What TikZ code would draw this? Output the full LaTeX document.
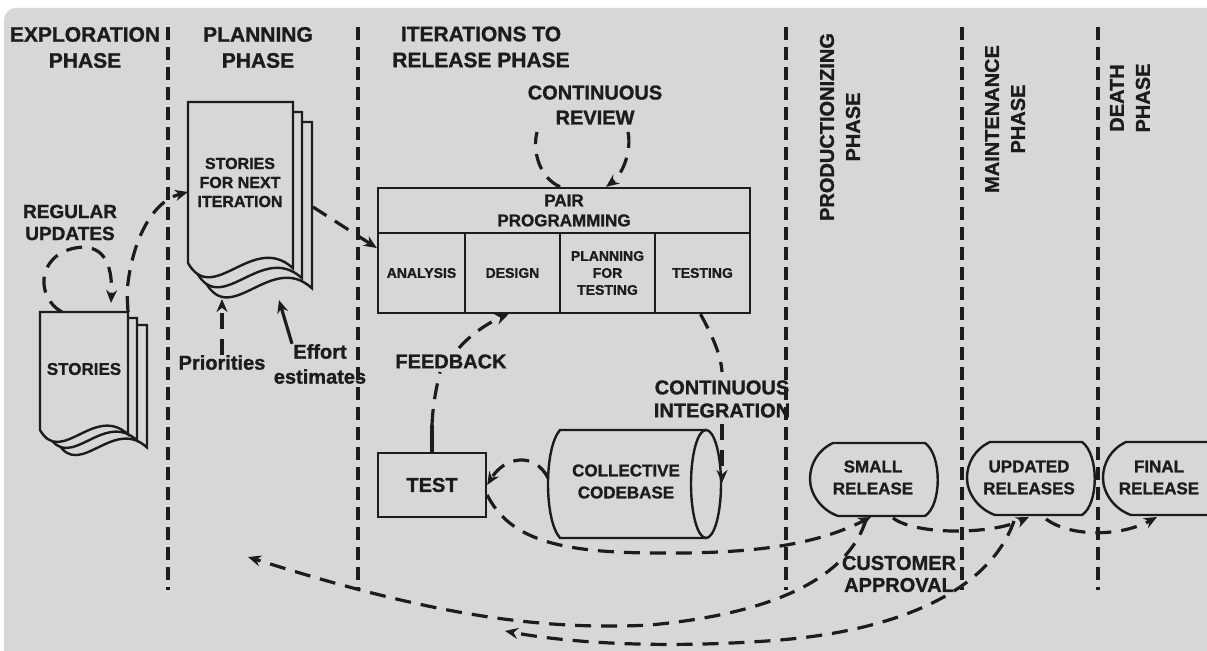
\documentclass[tikz,border=0pt]{standalone}
\usepackage{fontspec}
\setmainfont{Liberation Sans}[BoldFeatures={FakeBold=1.2}]
\usetikzlibrary{arrows.meta}
\definecolor{paper}{HTML}{D7D7D7}
\definecolor{ink}{HTML}{1C1C1C}
\newcommand\txtsz[2]{\fontsize{#1}{#2}\bfseries}
% one sheet of a document stack: left x, top y, width, height of the left edge
\newcommand\docpage[4]{%
  \filldraw[box] (#1,#2) -- (#1+#3,#2) -- (#1+#3,#2+#4+0.05*#3)
    .. controls (#1+0.62*#3,#2+#4-0.3*#3) and (#1+0.24*#3,#2+#4+0.42*#3) .. (#1,#2+#4) -- cycle;}
% release bubble centred on (x,y)
\newcommand\relbubble[2]{%
  \filldraw[box] (#1-40,#2-37) -- (#1+52,#2-37)
    .. controls (#1+69,#2-25) and (#1+69,#2+25) .. (#1+52,#2+36)
    -- (#1-35,#2+36)
    .. controls (#1-52,#2+30) and (#1-63,#2+14) .. (#1-63,#2-1)
    .. controls (#1-63,#2-16) and (#1-55,#2-30) .. (#1-40,#2-37) -- cycle;}

\begin{document}
\begin{tikzpicture}[x=0.5pt,y=-0.5pt,
  box/.style={draw=ink, line width=1.2pt, fill=paper},
  lbl/.style={text=ink, align=center, inner sep=0pt},
  phase/.style={lbl, font=\txtsz{10.5}{13}},
  vphase/.style={lbl, rotate=90, font=\txtsz{10}{13}},
  divider/.style={draw=ink, line width=2pt, dash pattern=on 6.5pt off 3.5pt},
  flow/.style={draw=ink, line width=1.6pt, dash pattern=on 8pt off 5pt},
  solidflow/.style={draw=ink, line width=1.6pt},
  arr/.style={-{Stealth[length=6.5pt,width=5.5pt]}},
  cell/.style={box, minimum height=40pt, inner sep=0pt, align=center, text=ink, font=\txtsz{7}{8.5}},
]
\useasboundingbox (0,0) rectangle (1207,651);
\clip (0,0) rectangle (1207,651);
\fill[white] (0,0) rectangle (1207,651);
\fill[paper, rounded corners=6pt] (4,8) rectangle (1230,680);

% phase separators
\foreach \x in {168,358,786,962,1098} { \draw[divider] (\x,27) -- (\x,590); }

% document stacks
\docpage{58}{325}{89}{118}
\docpage{49}{318}{88}{118}
\docpage{40}{312}{88}{118}
\docpage{206}{122}{106}{161}
\docpage{197}{112}{105}{161}
\docpage{188}{102}{105}{161}

% collective codebase cylinder
\filldraw[box] (560,430) -- (706,430) -- (706,538) -- (560,538)
  .. controls (544,520) and (544,448) .. (560,430) -- cycle;
\filldraw[box] (706,484) ellipse [x radius=15, y radius=54];

% release bubbles
\relbubble{873}{480}
\relbubble{1030}{479}
\relbubble{1166}{479}

% pair programming block and test box
\node[box, lbl, minimum width=186pt, minimum height=22.5pt, font=\txtsz{8.5}{10}] (pp) at (564,210.5) {PAIR\\PROGRAMMING};
\node[cell, minimum width=43.5pt] (analysis) at (421.5,273) {ANALYSIS};
\node[cell, minimum width=47.5pt] (design) at (512.5,273) {DESIGN};
\node[cell, minimum width=47.5pt] (pft) at (607.5,273) {PLANNING\\FOR\\TESTING};
\node[cell, minimum width=47.5pt] (testing) at (702.5,273) {TESTING};
\node[box, lbl, minimum width=54pt, minimum height=32pt, font=\txtsz{10}{12}] (test) at (432,485) {TEST};

% phase titles
\node[phase] (ph-expl) at (85,47.5) {EXPLORATION\\PHASE};
\node[phase] (ph-plan) at (258,47.5) {PLANNING\\PHASE};
\node[phase] (ph-iter) at (481,47) {ITERATIONS TO\\RELEASE PHASE};
\node[vphase] (ph-prod) at (840,127) {PRODUCTIONIZING\\PHASE};
\node[vphase] (ph-maint) at (1005,119) {MAINTENANCE\\PHASE};
\node[vphase] (ph-death) at (1130,98) {DEATH\\PHASE};

% labels
\node[lbl, font=\txtsz{9.5}{11}] (regup) at (70,222.5) {REGULAR\\UPDATES};
\node[lbl, font=\txtsz{8.5}{10}] (stories) at (84,369) {STORIES};
\node[lbl, font=\txtsz{8}{9.5}] (sfni) at (240,182.5) {STORIES\\FOR NEXT\\ITERATION};
\node[lbl, font=\txtsz{10}{12}] (prio) at (222,362.5) {Priorities};
\node[lbl, font=\txtsz{10}{12.5}] (effort) at (320,364) {Effort\\estimates};
\node[lbl, font=\txtsz{10}{12.5}] (crev) at (595,105) {CONTINUOUS\\REVIEW};
\node[lbl, font=\txtsz{10}{12}] (fb) at (451,361.5) {FEEDBACK};
\node[lbl, font=\txtsz{8.5}{11}] (cb) at (626,481.5) {COLLECTIVE\\CODEBASE};
\node[lbl, font=\txtsz{10}{11.5}] (ci) at (722,399) {CONTINUOUS\\INTEGRATION};
\node[lbl, font=\txtsz{8.5}{11}] (sr) at (873,477.5) {SMALL\\RELEASE};
\node[lbl, font=\txtsz{8.5}{11}] (ur) at (1029,477.5) {UPDATED\\RELEASES};
\node[lbl, font=\txtsz{8.5}{11}] (fr) at (1159,477.5) {FINAL\\RELEASE};
\node[lbl, font=\txtsz{10}{11}] (ca) at (899,574) {CUSTOMER\\APPROVAL};

% connector end points on the drawn shapes
\coordinate (st-ne) at (128,312);
\coordinate (st-n1) at (62,312);
\coordinate (st-n2) at (111,303);
\coordinate (sfni-w) at (188,192);
\coordinate (sfni-e) at (313,207);
\coordinate (sfni-s1) at (222,299);
\coordinate (sfni-s2) at (279,300);
\coordinate (cr-l) at (537,132);
\coordinate (cr-r) at (628,132);
\coordinate (fb-stem) at (432,425);
\coordinate (fb-lo) at (440,372);
\coordinate (fb-hi) at (459,348);
\coordinate (cyl-l) at (548,478);
\coordinate (cyl-r) at (722,483);
\coordinate (sr-sw) at (866,520);
\coordinate (sr-s) at (871,517);
\coordinate (sr-se) at (893,518);
\coordinate (ur-sw) at (1014,521);
\coordinate (ur-s) at (1029,517);
\coordinate (ur-se) at (1046,519);
\coordinate (fr-s) at (1157,517);
\coordinate (plan-ret) at (248,557);
\coordinate (iter-ret) at (505,631);

% exploration and planning
\draw[flow,arr] (st-n1) .. controls (36,298) and (36,256) .. (75,248)
  .. controls (102,243) and (113,262) .. (st-n2);
\draw[flow,arr] (st-ne) -- (127,292) .. controls (131,245) and (150,202) .. (sfni-w);
\draw[flow,arr] (prio.north) -- (sfni-s1);
\draw[solidflow,arr] ([xshift=-14pt]effort.north) -- (sfni-s2);
\draw[flow,arr] (sfni-e) -- ([yshift=12.5pt]analysis.west);

% iteration loops
\draw[flow] ([xshift=-2pt]pp.north) .. controls (540,178) and (532,152) .. (cr-l);
\draw[flow,arr] (cr-r) .. controls (632,152) and (622,175) .. ([xshift=21pt]pp.north);
\draw[solidflow] (test.north) -- (fb-stem);
\draw[flow] (fb-stem) .. controls (433,402) and (437,385) .. (fb-lo);
\draw[flow,arr] (fb-hi) .. controls (472,333) and (490,322) .. ([xshift=-2pt]design.south);
\draw[flow] ([xshift=-1pt]testing.south) .. controls (712,335) and (721,355) .. ([yshift=4pt]ci.north);
\draw[flow,arr] ([yshift=-3pt]ci.south) -- (cyl-r);
\draw[flow,arr] (cyl-l) .. controls (535,452) and (505,456) .. (test.east);

% releases
\draw[flow,arr] ([yshift=-5pt]test.east) .. controls (510,540) and (560,552) .. (650,553)
  .. controls (740,554) and (810,548) .. (sr-s);
\draw[flow,arr] (sr-se) .. controls (915,535) and (990,535) .. (ur-s);
\draw[flow,arr] (ur-se) .. controls (1070,537) and (1120,537) .. (fr-s);

% customer approval returns
\draw[flow,arr] (sr-sw) .. controls (850,570) and (790,612) .. (650,625)
  .. controls (520,632) and (400,605) .. (plan-ret);
\draw[flow,arr] (ur-sw) .. controls (990,590) and (900,630) .. (780,640)
  .. controls (680,648) and (580,645) .. (iter-ret);
\end{tikzpicture}
\end{document}
